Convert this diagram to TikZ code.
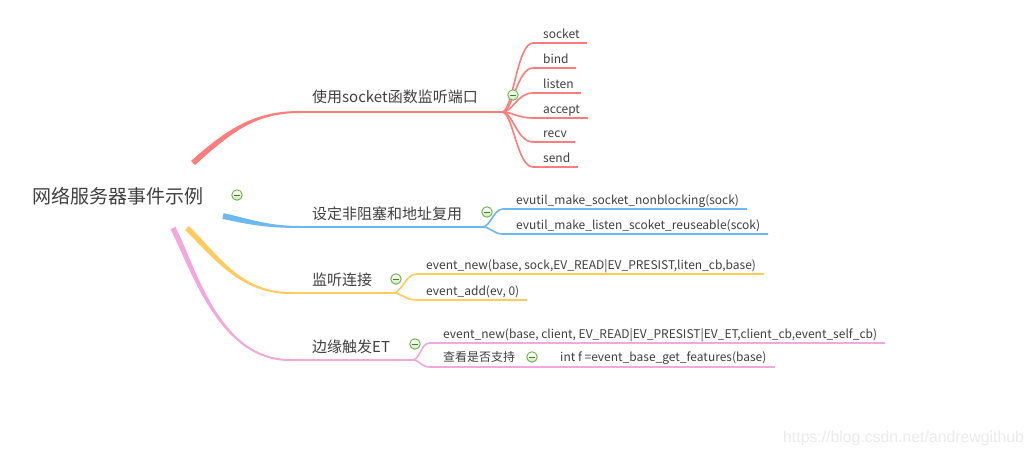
\documentclass[tikz,border=0pt]{standalone}
\usepackage{fontspec}
\setmainfont{Noto Sans CJK SC}
\newfontfamily\wmfont{Liberation Sans}
\usetikzlibrary{calc}
\definecolor{cred}{HTML}{FF7C7C}
\definecolor{cblue}{HTML}{6CB8F0}
\definecolor{cyel}{HTML}{FFCB5E}
\definecolor{cpink}{HTML}{F2A7DF}
\definecolor{tgray}{HTML}{404040}
\definecolor{igreen}{HTML}{6DB34A}
\definecolor{ilight}{HTML}{CFE9BC}
\definecolor{wmgray}{HTML}{EBEBEB}
% tapered curve: #1 colour, #2..#5 coordinate names P0..P3, #6 half width at start, #7 at end
\newcommand\taperfill[7]{%
  \path ($(#2)!#6!90:(#3)$) coordinate (tpA)
        ($(#2)!#6!-90:(#3)$) coordinate (tpB)
        ($(#5)!#7!-90:(#4)$) coordinate (tpC)
        ($(#5)!#7!90:(#4)$) coordinate (tpD);
  \fill[#1] (tpA) .. controls ($(#3)+(tpA)-(#2)$) and ($(#4)+(tpC)-(#5)$) .. (tpC)
     -- (tpD) .. controls ($(#4)+(tpD)-(#5)$) and ($(#3)+(tpB)-(#2)$) .. (tpB) -- cycle;
}
\begin{document}
\begin{tikzpicture}[x=1pt,y=-1pt,
  rootlbl/.style={text=tgray, inner sep=0, anchor=base west, font=\fontsize{19}{22}\selectfont},
  lbl/.style={text=tgray, inner sep=0, anchor=base west, font=\fontsize{15}{18}\selectfont},
  leaf/.style={text=tgray, inner sep=0, anchor=base west, font=\fontsize{12}{14}\selectfont},
  mainline/.style={line width=2pt},
  childline/.style={line width=1.6pt},
  icon/.style={circle, draw=igreen, line width=0.9pt, minimum size=10.5pt, inner sep=0pt,
    top color=white, bottom color=ilight,
    path picture={\draw[igreen!70!black, line width=1pt]
      ([xshift=-3pt]path picture bounding box.center) -- ([xshift=3pt]path picture bounding box.center);}},
  wm/.style={text=wmgray, inner sep=0, anchor=base west, font=\wmfont\fontsize{15.8}{18}\selectfont}
  ]
\useasboundingbox[fill=white] (0,0) rectangle (1034,455);

% root
\node[rootlbl] (root) at (32,203) {网络服务器事件示例};
\node[icon] (iroot) at (237,195) {};

% ---------- red branch ----------
\coordinate (r0) at (193,163);
\coordinate (r1) at (230,130);
\coordinate (r2) at (255,112);
\coordinate (r3) at (300,112);
\coordinate (rJ) at (502,112);
\taperfill{cred}{r0}{r1}{r2}{r3}{2.8pt}{1pt}
\draw[cred, mainline] (r3) -- (rJ);
\node[lbl] (rlab) at (312,102) {使用socket函数监听端口};
\foreach \nm/\txt/\yy/\xe in {la/socket/43/587, lb/bind/68/576, lc/listen/93/581,
                              ld/accept/118/588, le/recv/142/575, lf/send/167/578}{
  \node[leaf] (\nm) at (543,\yy-5) {\txt};
  \coordinate (\nm s) at (533,\yy);
  \coordinate (\nm e) at (\xe,\yy);
  \draw[cred, childline] (rJ) .. controls +(11,0) and +(-16,0) .. (\nm s) -- (\nm e);
}
\node[icon] (ired) at (513,95) {};

% ---------- blue branch ----------
\coordinate (b0) at (223,216);
\coordinate (b1) at (250,222);
\coordinate (b2) at (268,227);
\coordinate (b3) at (300,227);
\coordinate (bJ) at (482,227);
\taperfill{cblue}{b0}{b1}{b2}{b3}{2.9pt}{1pt}
\draw[cblue, mainline] (b3) -- (bJ);
\node[lbl] (blab) at (312,219) {设定非阻塞和地址复用};
\node[leaf] (ba) at (516,204) {evutil\_make\_socket\_nonblocking(sock)};
\node[leaf] (bb) at (516,229) {evutil\_make\_listen\_scoket\_reuseable(scok)};
\coordinate (bas) at (503,209); \coordinate (bae) at (747,209);
\coordinate (bbs) at (503,234); \coordinate (bbe) at (768,234);
\draw[cblue, childline] (bJ) .. controls +(9,0) and +(-10,0) .. (bas) -- (bae);
\draw[cblue, childline] (bJ) .. controls +(9,0) and +(-10,0) .. (bbs) -- (bbe);
\node[icon] (iblue) at (487,212) {};

% ---------- yellow branch ----------
\coordinate (y0) at (187,228);
\coordinate (y1) at (215,255);
\coordinate (y2) at (240,293);
\coordinate (y3) at (290,293);
\coordinate (yJ) at (393,293);
\taperfill{cyel}{y0}{y1}{y2}{y3}{2.8pt}{1pt}
\draw[cyel, mainline] (y3) -- (yJ);
\node[lbl] (ylab) at (312,285) {监听连接};
\node[leaf] (ya) at (426,269) {event\_new(base, sock,EV\_READ|EV\_PRESIST,liten\_cb,base)};
\node[leaf] (yb) at (426,295) {event\_add(ev, 0)};
\coordinate (yas) at (417,274); \coordinate (yae) at (764,274);
\coordinate (ybs) at (417,300); \coordinate (ybe) at (527,300);
\draw[cyel, childline] (yJ) .. controls +(9,0) and +(-12,0) .. (yas) -- (yae);
\draw[cyel, childline] (yJ) .. controls +(9,0) and +(-12,0) .. (ybs) -- (ybe);
\node[icon] (iyel) at (396,279) {};

% ---------- pink branch ----------
\coordinate (p0) at (173,228);
\coordinate (p1) at (195,272);
\coordinate (p2) at (220,360);
\coordinate (p3) at (290,360);
\coordinate (pJ) at (412,360);
\taperfill{cpink}{p0}{p1}{p2}{p3}{2.7pt}{1pt}
\draw[cpink, mainline] (p3) -- (pJ);
\node[lbl] (plab) at (312,352) {边缘触发ET};
\node[leaf] (pa) at (443,338) {event\_new(base, client, EV\_READ|EV\_PRESIST|EV\_ET,client\_cb,event\_self\_cb)};
\node[leaf] (pb) at (443,361) {查看是否支持};
\node[leaf] (pc) at (560,361) {int f =event\_base\_get\_features(base)};
\coordinate (pas) at (430,343); \coordinate (pae) at (885,343);
\coordinate (pbs) at (430,367); \coordinate (pbm) at (548,367); \coordinate (pce) at (775,367);
\draw[cpink, childline] (pJ) .. controls +(9,0) and +(-10,0) .. (pas) -- (pae);
\draw[cpink, childline] (pJ) .. controls +(9,0) and +(-10,0) .. (pbs) -- (pbm);
\draw[cpink, childline] (pbm) -- (pce);
\node[icon] (ipink) at (415,344) {};
\node[icon] (icheck) at (532,357) {};

% watermark
\node[wm] (wmark) at (783,442) {https://blog.csdn.net/andrewgithub};
\end{tikzpicture}
\end{document}
